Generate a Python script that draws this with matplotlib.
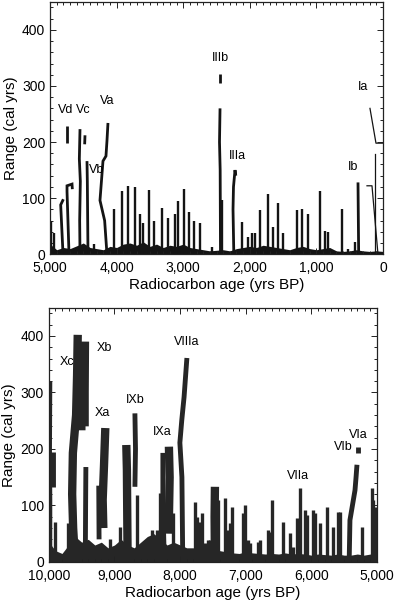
import numpy as np
import matplotlib.pyplot as plt
from matplotlib.ticker import MultipleLocator, FuncFormatter

plt.rcParams['font.family'] = ['Liberation Sans', 'DejaVu Sans']

# ---------------- data: top panel (0 - 5,000 BP) ----------------
top_base_age = list(range(5000, -1, -100))
top_base_rng = [18, 8, 12, 10, 15, 20, 12, 10, 8, 14, 12, 18, 20, 16, 22, 14, 18,
                12, 16, 14, 18, 12, 10, 8, 6, 7, 8, 6, 10, 12, 14, 12, 16, 14, 12,
                10, 8, 12, 14, 10, 8, 10, 12, 6, 5, 6, 8, 6, 5, 6, 5]

# simple spikes: radiocarbon age, max range
top_spike_age = [4985, 4940, 4340, 4040, 3920, 3830, 3724, 3649, 3600, 3513, 3438,
                 3318, 3228, 3123, 3078, 2988, 2913, 2838, 2748, 2568, 2417, 2117,
                 2027, 1967, 1922, 1847, 1727, 1652, 1577, 1502, 1291, 1216, 1126,
                 946, 871, 826, 616, 526, 420]
top_spike_rng = [60, 37, 19, 80, 113, 122, 120, 72, 55, 115, 60,
                 83, 64, 72, 95, 117, 75, 60, 55, 12, 96, 57,
                 30, 37, 37, 78, 108, 48, 92, 37, 78, 81, 72,
                 113, 42, 39, 81, 10, 21]

# named ranges that wander with age
top_paths = {
    'Vd1': [(4805, 0), (4840, 88), (4800, 98)],
    'Vd2': [(4715, 0), (4745, 112), (4745, 122), (4670, 125), (4665, 116)],
    'Vd3': [(4745, 199), (4745, 228)],
    'Vc': [(4550, 0), (4555, 60), (4545, 130), (4560, 170), (4550, 223)],
    'Vc2': [(4480, 196), (4475, 212)],
    'Vb': [(4430, 0), (4440, 130), (4445, 166)],
    'Va': [(4145, 0), (4180, 60), (4250, 96), (4205, 166), (4160, 175), (4145, 202), (4130, 234)],
    'IIIb': [(2440, 0), (2445, 150), (2455, 200), (2447, 260)],
    'IIIb2': [(2447, 305), (2447, 322)],
    'IIIa': [(2240, 0), (2252, 80), (2245, 120), (2222, 150), (2210, 140)],
    'Ib': [(365, 0), (375, 128)],
}
top_thin_paths = {
    'Ia1': [(195, 260), (105, 198), (0, 198)],
    'Ia2': [(120, 0), (120, 178)],
    'Ia3': [(240, 122), (165, 122), (75, 0)],
}
top_labels = ['Vd', 'Vc', 'Va', 'Vb', 'IIIb', 'IIIa', 'Ib', 'Ia']
top_label_age = [4760, 4505, 4140, 4305, 2445, 2180, 450, 300]
top_label_rng = [258, 258, 274, 150, 349, 175, 156, 299]

# ---------------- data: bottom panel (5,000 - 10,000 BP) ----------------
bot_base_age = list(range(10000, 4999, -100))
bot_base_rng = [35, 20, 15, 30, 45, 35, 40, 30, 35, 25, 30, 40, 30, 25, 35, 45,
                50, 40, 30, 35, 30, 25, 25, 20, 18, 22, 20, 18, 16, 15, 18, 16,
                15, 14, 15, 14, 16, 14, 15, 14, 12, 14, 13, 12, 14, 12, 12, 14,
                12, 14, 15]

bot_spike_age = [9910, 9710, 9650, 9070, 8918, 8659, 8430, 8354, 8308, 8110, 7775,
                 7744, 7699, 7668, 7623, 7577, 7546, 7501, 7424, 7318, 7272, 7242,
                 7211, 7044, 7013, 6967, 6937, 6815, 6784, 6662, 6632, 6601, 6434,
                 6327, 6281, 6220, 6175, 6099, 6068, 5977, 5946, 5870, 5763, 5672,
                 5596, 5565, 5230, 5078, 5062, 5032]
bot_spike_rng = [70, 69, 62, 40, 62, 118, 57, 57, 122, 87, 106,
                 80, 71, 86, 34, 39, 39, 115, 110, 113, 57, 69,
                 98, 86, 101, 39, 34, 36, 39, 57, 53, 110, 71,
                 51, 27, 78, 131, 92, 83, 92, 86, 69, 98, 62,
                 89, 89, 62, 131, 110, 98]

bot_wide_paths = {
    'Xc': [(9600, 0), (9630, 60), (9645, 120), (9634, 193), (9585, 260), (9570, 330), (9560, 402)],
    'Xb1': [(9505, 233), (9505, 300), (9510, 345)],
    'Xb2': [(9455, 240), (9455, 300), (9450, 390)],
    'Xa2': [(9170, 60), (9180, 110), (9160, 170), (9140, 237)],
    'IXb1': [(8800, 0), (8811, 163), (8820, 207)],
    'IXa2': [(8175, 50), (8160, 150), (8171, 204)],
    'band': [(7470, 0), (7475, 80), (7470, 133)],
}
bot_paths = {
    'Xc0': [(9985, 0), (9985, 110), (9990, 200), (9985, 319)],
    'Xc1': [(9940, 133), (9940, 195)],
    'Xb3': [(9445, 0), (9440, 100), (9436, 168)],
    'Xa1': [(9235, 40), (9240, 135)],
    'IXb2': [(8689, 133), (8680, 200), (8689, 263)],
    'IXa1': [(8240, 0), (8263, 100), (8263, 193)],
    'VIIIa': [(7960, 0), (7973, 150), (8004, 211), (7975, 251), (7940, 292), (7897, 361)],
    'VIb': [(5425, 0), (5413, 74), (5336, 127), (5320, 150), (5306, 172)],
    'VIa': [(5291, 193), (5291, 204)],
}
bot_labels = ['Xc', 'Xb', 'Xa', 'IXb', 'IXa', 'VIIIa', 'VIIa', 'VIb', 'VIa']
bot_label_age = [9726, 9150, 9190, 8690, 8265, 7900, 6205, 5520, 5291]
bot_label_rng = [354, 379, 264, 287, 230, 389, 152, 204, 225]

ink = '#141414'
grey_ink = '#262626'

fig = plt.figure(figsize=(3.94, 6.01), dpi=100)
ax1 = fig.add_axes([0.127, 0.577, 0.845, 0.42])
ax2 = fig.add_axes([0.124, 0.065, 0.833, 0.423])


def thousands(v, pos):
    return f'{int(v):,}'


def style(ax, x0, x1):
    ax.set_xlim(x0, x1)
    ax.set_ylim(0, 450)
    ax.xaxis.set_major_locator(MultipleLocator(1000))
    ax.xaxis.set_minor_locator(MultipleLocator(100))
    ax.yaxis.set_minor_locator(MultipleLocator(20))
    ax.set_yticks([0, 100, 200, 300, 400])
    ax.xaxis.set_major_formatter(FuncFormatter(thousands))
    ax.tick_params(which='both', direction='in', top=True, right=True,
                   labelsize=10, width=0.7, color='#222')
    ax.tick_params(which='major', length=4)
    ax.tick_params(axis='x', which='major', pad=5)
    ax.tick_params(which='minor', length=2.2)
    ax.set_xlabel('Radiocarbon age (yrs BP)', fontsize=11, labelpad=2)
    ax.set_ylabel('Range (cal yrs)', fontsize=11, labelpad=3)
    for s in ax.spines.values():
        s.set_linewidth(0.9)
        s.set_color('#222')


def draw(ax, base_age, base_rng, sp_age, sp_rng, paths, lw_sp, lw_path, color):
    ax.fill_between(base_age, 0, base_rng, color=color, lw=0)
    ax.vlines(sp_age, 0, sp_rng, color=color, lw=lw_sp)
    for pts in paths.values():
        a, r = zip(*pts)
        ax.plot(a, r, color=color, lw=lw_path, solid_capstyle='butt', solid_joinstyle='miter')


draw(ax1, top_base_age, top_base_rng, top_spike_age, top_spike_rng, top_paths,
     1.7, 2.0, ink)
for pts in top_thin_paths.values():
    a, r = zip(*pts)
    ax1.plot(a, r, color=ink, lw=0.9)
for t, a, r in zip(top_labels, top_label_age, top_label_rng):
    ax1.text(a, r, t, fontsize=9, ha='center', va='center')
style(ax1, 5000, 0)

draw(ax2, bot_base_age, bot_base_rng, bot_spike_age, bot_spike_rng, bot_paths,
     2.4, 3.5, grey_ink)
for pts in bot_wide_paths.values():
    a, r = zip(*pts)
    ax2.plot(a, r, color=grey_ink, lw=6, solid_capstyle='butt', solid_joinstyle='miter')
for t, a, r in zip(bot_labels, bot_label_age, bot_label_rng):
    ax2.text(a, r, t, fontsize=9, ha='center', va='center')
style(ax2, 10000, 5000)

fig.savefig('out.png', dpi=100)
